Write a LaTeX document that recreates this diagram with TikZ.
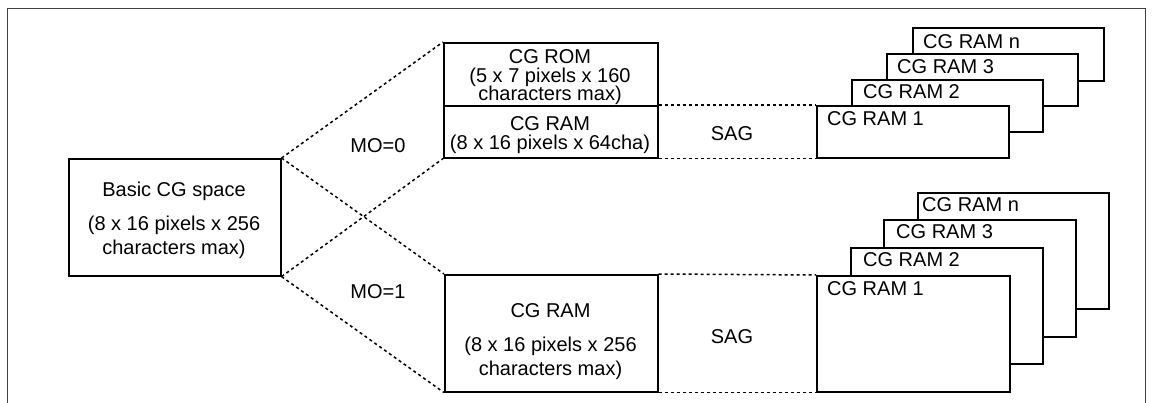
\documentclass[tikz,border=0pt]{standalone}
\usepackage{fontspec}
\setmainfont{Liberation Sans}
\begin{document}
\begin{tikzpicture}[x=1pt,y=-1pt,
  font=\fontsize{20}{20}\selectfont,
  box/.style={draw, line width=1.6pt, inner sep=0pt, anchor=north west, fill=white},
  dots/.style={line width=1.5pt, dash pattern=on 3pt off 3pt},
  txt/.style={inner sep=0pt, text height=14pt, text depth=0pt},
  ltxt/.style={txt, anchor=west}]
\useasboundingbox (0,0) rectangle (1154,403);
% frame
\draw[line width=1pt, black!75] (7,410) -- (7,9) -- (1145,9) -- (1145,410);

% left box
\node[box, minimum width=212pt, minimum height=117pt] (basic) at (68,158) {};
\node[txt] (basicA) at (174,190) {Basic CG space};
\node[txt] (basicB) at (174,223.5) {(8 x 16 pixels x 256};
\node[txt] (basicC) at (174,247.5) {characters max)};

% MO=0 upper
\node[box, minimum width=214pt, minimum height=63pt] (rom) at (443,42) {};
\node[txt] (romA) at (550,56.3) {CG ROM};
\node[txt] (romB) at (550,76) {(5 x 7 pixels x 160};
\node[txt] (romC) at (550,94) {characters max)};
\node[box, minimum width=214pt, minimum height=52pt] (ramt) at (443,105) {};
\node[txt] (ramtA) at (550,124) {CG RAM};
\node[txt] (ramtB) at (550,143) {(8 x 16 pixels x 64cha)};
\node[txt] (sagt) at (732,133.3) {SAG};

% MO=1 lower
\node[box, minimum width=213pt, minimum height=117pt] (ramb) at (444,274) {};
\node[txt] (rambA) at (550.5,310.3) {CG RAM};
\node[txt] (rambB) at (550.5,345) {(8 x 16 pixels x 256};
\node[txt] (rambC) at (550.5,368.3) {characters max)};
\node[txt] (sagb) at (732,337) {SAG};

% labels
\node[txt] (mo0) at (378,146) {MO=0};
\node[txt] (mo1) at (378,292) {MO=1};

% upper stack
\node[box, minimum width=191pt, minimum height=53pt] (tn) at (912,27) {};
\node[ltxt] (tnT) at (923,41.2) {CG RAM n};
\node[box, minimum width=191pt, minimum height=52pt] (t3) at (886,53) {};
\node[ltxt] (t3T) at (897,66.3) {CG RAM 3};
\node[box, minimum width=191pt, minimum height=52pt] (t2) at (851,79) {};
\node[ltxt] (t2T) at (863,91.2) {CG RAM 2};
\node[box, minimum width=192pt, minimum height=52pt] (t1) at (816,105) {};
\node[ltxt] (t1T) at (827,118.3) {CG RAM 1};

% lower stack
\node[box, minimum width=191pt, minimum height=116pt] (bn) at (917,192) {};
\node[ltxt] (bnT) at (922,204.5) {CG RAM n};
\node[box, minimum width=192pt, minimum height=117pt] (b3) at (883,219) {};
\node[ltxt] (b3T) at (896,232) {CG RAM 3};
\node[box, minimum width=192pt, minimum height=116pt] (b2) at (850,247) {};
\node[ltxt] (b2T) at (863,259.7) {CG RAM 2};
\node[box, minimum width=193pt, minimum height=116pt] (b1) at (816,275) {};
\node[ltxt] (b1T) at (827,288.3) {CG RAM 1};

% dotted connectors
\draw[dots] (basic.north east) -- (rom.north west);
\draw[dots] (basic.north east) -- (ramb.north west);
\draw[dots] (basic.south east) -- (ramt.south west);
\draw[dots] (basic.south east) -- (ramb.south west);
\draw[dots] (ramt.north east) -- (t1.north west);
\draw[dots] (ramt.south east) -- (t1.south west);
\draw[dots] (ramb.north east) -- (b1.north west);
\draw[dots] (ramb.south east) -- (b1.south west);
\end{tikzpicture}
\end{document}
